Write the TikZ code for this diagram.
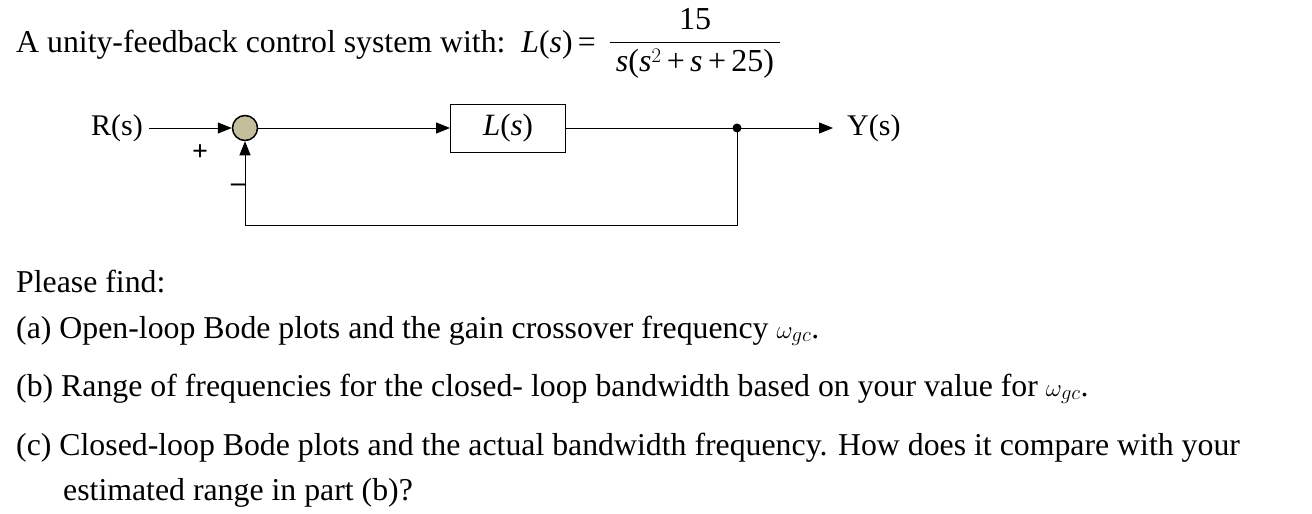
\documentclass[tikz,border=0pt]{standalone}
\usepackage{fontspec}
\setmainfont{Liberation Serif}
\usetikzlibrary{arrows.meta}
\begin{document}
\begin{tikzpicture}[x=1pt,y=-1pt,
  txt/.style={inner sep=0pt,anchor=base west,font=\fontsize{31.8}{36}\selectfont},
  lbl/.style={inner sep=0pt,font=\fontsize{30}{32}\selectfont},
  ln/.style={line width=1pt},
  arr/.style={ln,-{Triangle[length=14pt,width=11pt]}}]
\useasboundingbox (0,0) rectangle (1312,514);
\node[txt] (t1) at (16,52) {A unity-feedback control system with:\enspace \textit{L}(\textit{s})\,=};
\node[lbl,font=\fontsize{32}{34}\selectfont] (num) at (695,19) {15};
\node[lbl,font=\fontsize{32}{34}\selectfont] (den) at (695,64) {\textit{s}(\textit{s}$^2$\,+\,\textit{s}\,+\,25)};
\draw[ln] (610,42) -- (780,42);
% block diagram
\node[lbl,anchor=east,inner sep=6pt] (R) at (149,128) {R(s)};
\node[circle,draw,line width=1.5pt,fill={rgb,255:red,196;green,190;blue,156},minimum size=25pt,inner sep=0pt] (S) at (245,128) {};
\node[draw,ln,minimum width=115pt,minimum height=48pt,inner sep=0pt,font=\fontsize{31}{32}\selectfont] (L) at (508,128) {\textit{L}(\textit{s})};
\coordinate (d) at (737,128);
\fill (d) circle (4.5pt);
\node[lbl,anchor=west,inner sep=0pt] (Y) at (847,128) {Y(s)};
\draw[arr] (R) -- (S);
\draw[arr] (S) -- (L);
\draw[ln] (L) -- (d);
\draw[arr] (d) -- ([xshift=-14pt]Y.west);
\coordinate (b1) at (737,225);
\coordinate (b2) at (245,225);
\draw[arr] (d) -- (b1) -- (b2) -- (S);
\node[lbl,font=\bfseries\fontsize{28}{30}\selectfont] (p) at (200,153) {+};
\node[lbl,font=\bfseries\fontsize{28}{30}\selectfont] (m) at (238,188) {--};
% questions
\node[txt] (q0) at (16,292) {Please find:};
\node[txt] (qa) at (16,338) {(a) Open-loop Bode plots and the gain crossover frequency $\omega_{gc}$.};
\node[txt] (qb) at (16,396) {(b) Range of frequencies for the closed- loop bandwidth based on your value for $\omega_{gc}$.};
\node[txt] (qc) at (16,455) {(c) Closed-loop Bode plots and the actual bandwidth frequency. How does it compare with your};
\node[txt] (qd) at (63,500) {estimated range in part (b)?};
\end{tikzpicture}
\end{document}
